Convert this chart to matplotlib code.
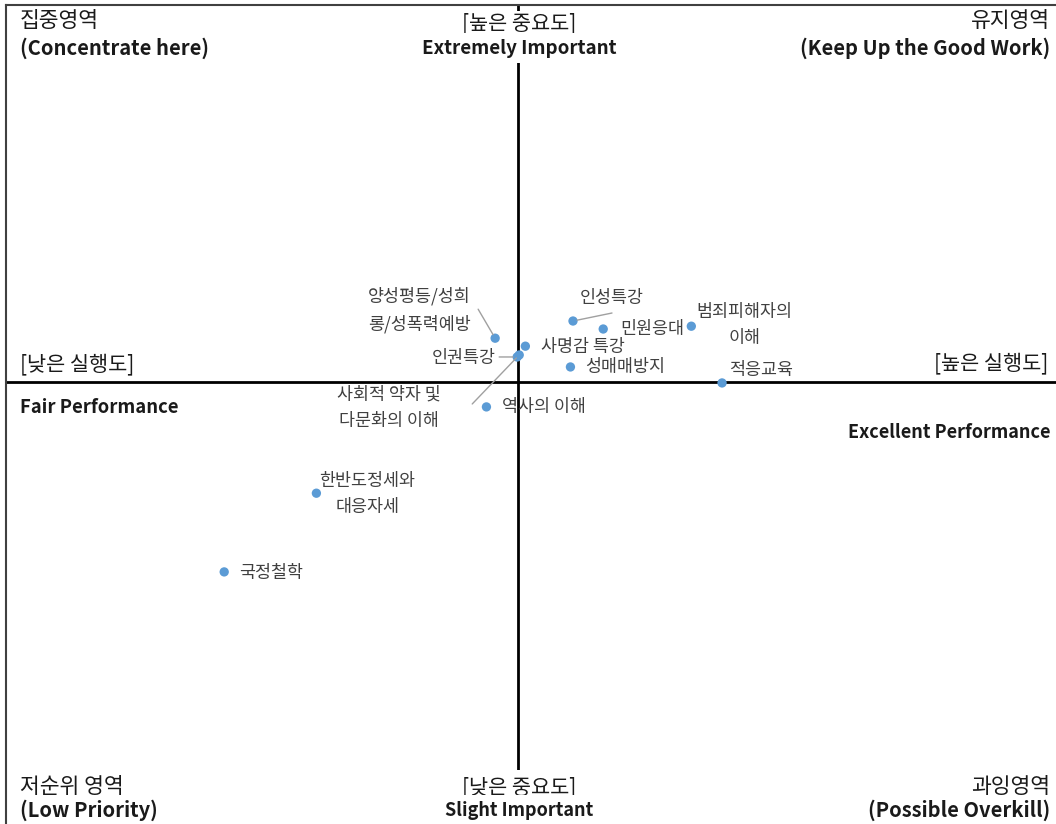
import matplotlib.pyplot as plt

plt.rcParams['font.family'] = ['Noto Sans CJK KR', 'DejaVu Sans']

# IPA data: performance (x) and importance (y)
items = ['양성평등/성희\n롱/성폭력예방', '인성특강', '민원응대', '범죄피해자의\n이해', '사명감 특강',
         '인권특강', '성매매방지', '적응교육', '역사의 이해', '사회적 약자 및\n다문화의 이해',
         '한반도정세와\n대응자세', '국정철학']
performance = [3.955, 4.107, 4.166, 4.338, 4.014, 3.998, 4.102, 4.398, 3.938, 4.002, 3.606, 3.426]
importance = [4.110, 4.153, 4.133, 4.140, 4.090, 4.063, 4.038, 3.998, 3.938, 4.068, 3.722, 3.525]
perf_mean = 4.0
imp_mean = 4.0

# label offsets in pixels (dx, dy), alignment, leader start offset (or None)
label_pos = [(-76, 28, 'center', (-17, 29)), (39, 23, 'center', (39, 8)), (17, 0, 'left', None),
             (53, 1, 'center', None), (16, -1, 'left', None), (-21, -1, 'right', (-18, 0)),
             (15, 0, 'left', None), (7, 13, 'left', None), (16, 0, 'left', None),
             (-130, -53, 'center', (-47, -49)), (51, -1, 'center', None), (15, -1, 'left', None)]

fig = plt.figure(figsize=(10.56, 8.24), dpi=100)
ax = fig.add_axes([6 / 1056, 0, 1050 / 1056, 819 / 824])
ax.set_xlim(3.0, 5.05)
ax.set_ylim(2.894, 4.944)
ax.set_xticks([])
ax.set_yticks([])
for s in ['right', 'bottom']:
    ax.spines[s].set_visible(False)
for s in ['top', 'left']:
    ax.spines[s].set_color('#404040')
    ax.spines[s].set_linewidth(1.5)

ax.axhline(imp_mean, color='black', lw=2, zorder=1)
ax.axvline(perf_mean, color='black', lw=2, zorder=1)

ax.scatter(performance, importance, s=45, color='#5B9BD5', zorder=3, edgecolors='none')

for name, x, y, (dx, dy, ha, lead) in zip(items, performance, importance, label_pos):
    ax.annotate(name, (x, y), xytext=(dx, dy), textcoords='offset pixels', ha=ha, va='center',
                fontsize=12.5, color='#404040', linespacing=1.6, zorder=4)
    if lead is not None:
        ax.annotate('', (x, y), xytext=lead, textcoords='offset pixels',
                    arrowprops=dict(arrowstyle='-', color='#a0a0a0', lw=1, shrinkA=0, shrinkB=3))

# quadrant and axis captions
def ftext(px, py, s, ha='left', **kw):
    fig.text(px / 1056, 1 - py / 824, s, ha=ha, va='center', color='#1a1a1a', **kw)

kor = dict(fontsize=15.5)
eng = dict(fontsize=14.5, fontweight='bold')
ftext(20, 21, '집중영역', **kor)
ftext(20, 48, '(Concentrate here)', **eng)
ftext(1050, 21, '유지영역', ha='right', **kor)
ftext(1050, 48, '(Keep Up the Good Work)', ha='right', **eng)
ftext(20, 787, '저순위 영역', **kor)
ftext(20, 810, '(Low Priority)', **eng)
ftext(1050, 787, '과잉영역', ha='right', **kor)
ftext(1050, 810, '(Possible Overkill)', ha='right', **eng)

wb = dict(facecolor='white', edgecolor='none', pad=1)
wb2 = dict(facecolor='white', edgecolor='none', pad=4)
ftext(519, 23, '[높은 중요도]', ha='center', fontsize=15, bbox=wb)
ftext(519, 48, 'Extremely Important', ha='center', fontsize=13.5, fontweight='bold', bbox=wb2)
ftext(519, 787, '[낮은 중요도]', ha='center', fontsize=15, bbox=wb2)
ftext(519, 810, 'Slight Important', ha='center', fontsize=13, fontweight='bold', bbox=wb2)

ftext(20, 364, '[낮은 실행도]', fontsize=15)
ftext(20, 407, 'Fair Performance', fontsize=13.3, fontweight='bold')
ftext(1048, 363, '[높은 실행도]', ha='right', fontsize=15)
ftext(1050, 432, 'Excellent Performance', ha='right', fontsize=13, fontweight='bold')

fig.savefig('out.png', dpi=100)
